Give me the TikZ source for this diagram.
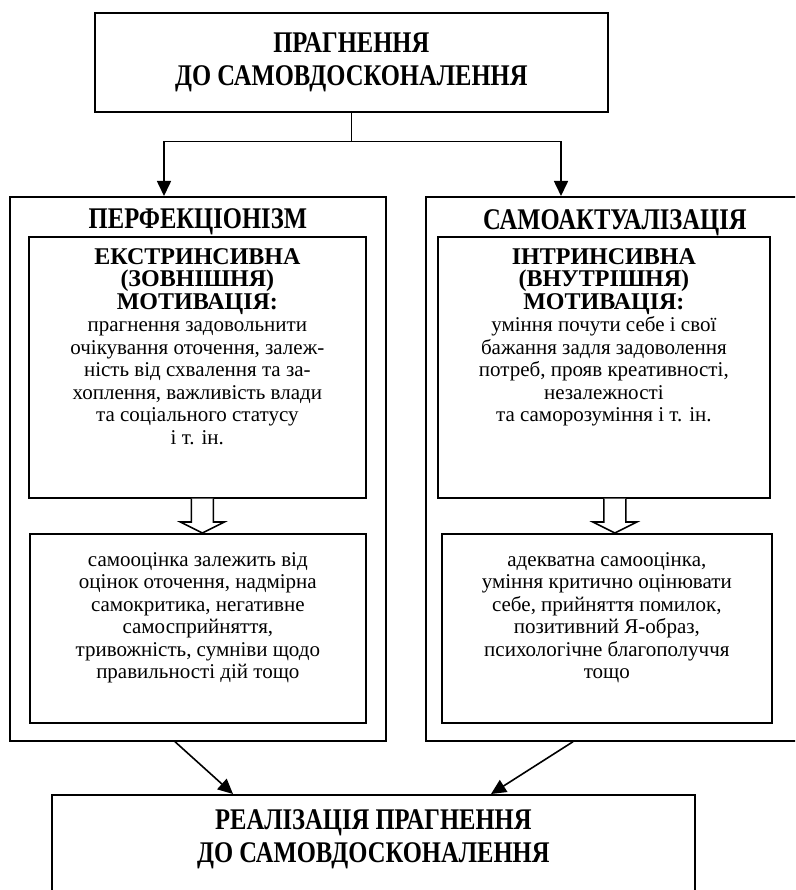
\documentclass[tikz,border=0pt]{standalone}
\usepackage{fontspec}
\setmainfont{Liberation Serif}
\newfontfamily\condfont{Liberation Serif}[FakeStretch=0.82]
\usetikzlibrary{arrows.meta, positioning}

% bold heading line inside a motivation box
\newcommand{\mothead}[1]{{\bfseries\fontsize{24}{22.5}\selectfont #1}}

\begin{document}
\begin{tikzpicture}[x=1pt, y=-1pt,
    box/.style={draw, line width=1.7pt, anchor=north west, inner sep=0pt},
    body/.style={align=center, inner sep=0pt, font=\fontsize{21}{22.5}\selectfont},
    head/.style={align=center, inner sep=0pt, font=\condfont\bfseries\fontsize{30}{33}\selectfont},
    title/.style={inner sep=0pt, font=\condfont\bfseries\fontsize{30}{30}\selectfont},
    arr/.style={line width=1.6pt, -{Triangle[length=15pt, width=14pt]}},
    hollow/.style={line width=1.6pt, fill=white}]
    \useasboundingbox (0,0) rectangle (795,890);
    \clip (0,0) rectangle (795,890);

    % top and bottom
    \node[box, minimum width=513pt, minimum height=99pt] (topbox) at (94,12) {};
    \node[head] (toptext) at (topbox.center) {ПРАГНЕННЯ\\ДО САМОВДОСКОНАЛЕННЯ};
    \node[box, minimum width=643pt, minimum height=130pt] (real) at (51,794) {};
    \node[head, below=15pt of real.north] (realtext) {РЕАЛІЗАЦІЯ ПРАГНЕННЯ\\ДО САМОВДОСКОНАЛЕННЯ};

    % two columns
    \node[box, minimum width=376pt, minimum height=544pt] (perf) at (9,196) {};
    \node[box, minimum width=378pt, minimum height=544pt] (samo) at (425,196) {};
    \node[title, below=12pt of perf.north] (perftitle) {ПЕРФЕКЦІОНІЗМ};
    \node[title, below=13pt of samo.north] (samotitle) {САМОАКТУАЛІЗАЦІЯ};

    \node[box, minimum width=337pt, minimum height=261pt] (ekstr) at (28,236) {};
    \node[box, minimum width=332pt, minimum height=261pt] (intr) at (437,236) {};
    \node[box, minimum width=336pt, minimum height=189pt] (ocinka) at (29,533) {};
    \node[box, minimum width=330pt, minimum height=189pt] (adekv) at (441,533) {};

    \node[body, below=12pt of ekstr.north] (ekstrtext) {\mothead{ЕКСТРИНСИВНА}\\
      \mothead{(ЗОВНІШНЯ)}\\ \mothead{МОТИВАЦІЯ:}\\
      прагнення задовольнити\\ очікування оточення, залеж-\\ ність від схвалення та за-\\
      хоплення, важливість влади\\ та соціального статусу\\ і т. ін.};
    \node[body, below=12pt of intr.north] (intrtext) {\mothead{ІНТРИНСИВНА}\\
      \mothead{(ВНУТРІШНЯ)}\\ \mothead{МОТИВАЦІЯ:}\\
      уміння почути себе і свої\\ бажання задля задоволення\\ потреб, прояв креативності,\\
      незалежності\\ та саморозуміння і т. ін.};
    \node[body, below=19pt of ocinka.north] (ocinkatext) {самооцінка залежить від\\ оцінок оточення, надмірна\\
      самокритика, негативне\\ самосприйняття,\\ тривожність, сумніви щодо\\ правильності дій тощо};
    \node[body, below=19pt of adekv.north] (adekvtext) {адекватна самооцінка,\\ уміння критично оцінювати\\
      себе, прийняття помилок,\\ позитивний Я-образ,\\ психологічне благополуччя\\ тощо};

    % connectors
    \draw[line width=1.6pt] (topbox.south) -- ++(0,29) coordinate (split);
    \coordinate (perfin) at ([xshift=155pt]perf.north west);
    \coordinate (samoin) at ([xshift=136pt]samo.north west);
    \draw[arr] (split) -| (perfin);
    \draw[arr] (split) -| (samoin);

    \coordinate (hl) at ([xshift=5pt]ekstr.south);
    \coordinate (hlend) at (hl |- ocinka.north);
    \coordinate (hr) at ([xshift=11pt]intr.south);
    \coordinate (hrend) at (hr |- adekv.north);
    \foreach \a/\b in {hl/hlend, hr/hrend} {
        \draw[hollow] ([xshift=-11pt]\a) -- ([xshift=-11pt,yshift=11pt]\b) -- ([xshift=-22pt,yshift=11pt]\b)
          -- (\b) -- ([xshift=22pt,yshift=11pt]\b) -- ([xshift=11pt,yshift=11pt]\b) -- ([xshift=11pt]\a);
    }

    \draw[arr] ([xshift=166pt]perf.south west) -- ([xshift=182pt]real.north west);
    \draw[arr] ([xshift=148pt]samo.south west) -- ([xshift=440pt]real.north west);
\end{tikzpicture}
\end{document}
